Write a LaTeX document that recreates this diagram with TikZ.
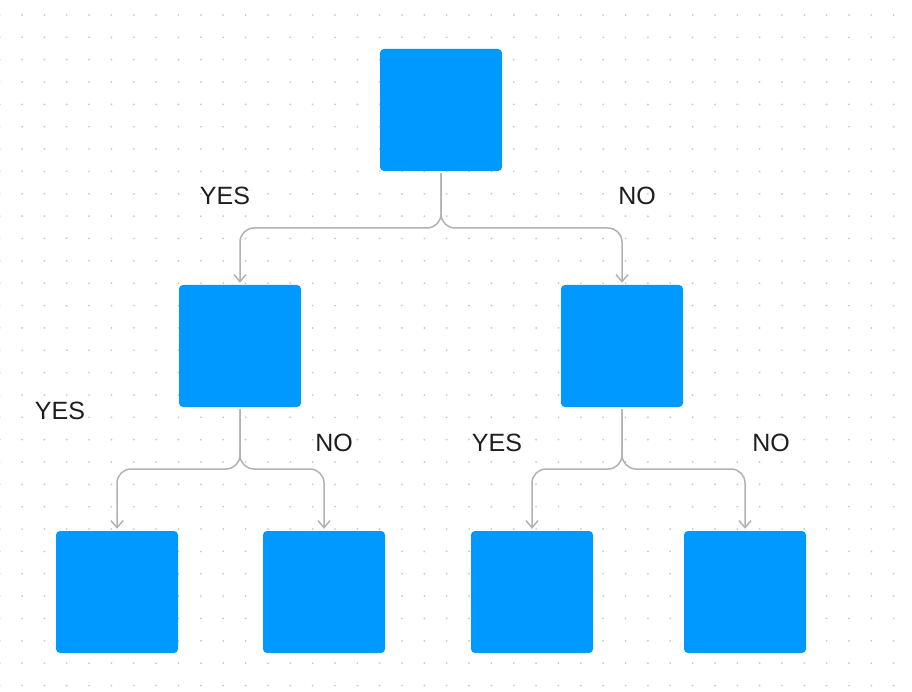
\documentclass[tikz,border=0pt]{standalone}
\usepackage{fontspec}
\setmainfont{Liberation Sans}
\usetikzlibrary{arrows.meta,calc}

\definecolor{boxblue}{RGB}{0,153,255}
\definecolor{linegray}{RGB}{178,178,178}
\definecolor{dotgray}{RGB}{200,200,200}
\definecolor{textdark}{RGB}{30,30,30}

\begin{document}
\begin{tikzpicture}[x=1pt,y=-1pt,
    box/.style={fill=boxblue, rounded corners=4pt, minimum size=122pt, inner sep=0pt},
    answer/.style={anchor=base, text=textdark, inner sep=0pt, font=\fontsize{25}{30}\selectfont},
    branch/.style={draw=linegray, line width=1.5pt, rounded corners=14pt,
      shorten <=2pt, shorten >=2pt, -{Straight Barb[length=7pt,width=12pt]}}]

        \useasboundingbox (0,0) rectangle (912,692);
        \fill[white] (0,0) rectangle (912,692);

        \foreach \i in {0,...,40}
          \foreach \j in {0,...,30}
            \fill[dotgray] (-0.3+22.35*\i, 15+22.35*\j) circle (1pt);

        \begin{scope}[every node/.style={box}]
          \node (1) at (441,110) {};
          \node (2) at (240,346) {};
          \node (3) at (622,346) {};
          \node (4) at (117,592) {};
          \node (5) at (324,592) {};
          \node (6) at (532,592) {};
          \node (7) at (745,592) {};
        \end{scope}

        \begin{scope}[every node/.style={answer}]
          \node (t1) at (225,205) {YES};
          \node (t2) at (637,205) {NO};
          \node (t3) at (60,419)  {YES};
          \node (t4) at (334,451) {NO};
          \node (t5) at (497,451) {YES};
          \node (t6) at (771,451) {NO};
        \end{scope}

        \begin{scope}[every path/.style={branch}]
          \path (1.south) |- ($(1.south)!.5!(2.north)$) -| (2.north);
          \path (1.south) |- ($(1.south)!.5!(3.north)$) -| (3.north);
          \path (2.south) |- ($(2.south)!.5!(4.north)$) -| (4.north);
          \path (2.south) |- ($(2.south)!.5!(5.north)$) -| (5.north);
          \path (3.south) |- ($(3.south)!.5!(6.north)$) -| (6.north);
          \path (3.south) |- ($(3.south)!.5!(7.north)$) -| (7.north);
        \end{scope}

      \end{tikzpicture}
\end{document}
